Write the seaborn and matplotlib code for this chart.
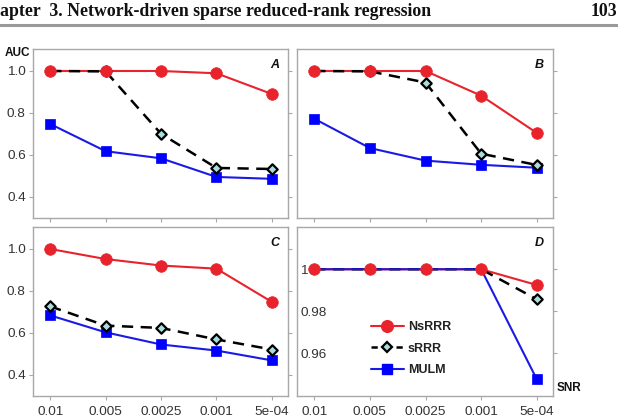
import numpy as np
import pandas as pd
import matplotlib
matplotlib.use("Agg")
import matplotlib.pyplot as plt
import seaborn as sns
from matplotlib.lines import Line2D

# ---------------- data ----------------
snr_labels = ["0.01", "0.005", "0.0025", "0.001", "5e-04"]
methods = ["NsRRR", "sRRR", "MULM"]
panels = ["A", "B", "C", "D"]

nsrrr_A = [1.0, 1.0, 1.0, 0.989, 0.890]
srrr_A = [1.0, 0.998, 0.700, 0.537, 0.532]
mulm_A = [0.747, 0.617, 0.583, 0.494, 0.485]

nsrrr_B = [1.0, 1.0, 1.0, 0.882, 0.704]
srrr_B = [1.0, 0.998, 0.945, 0.605, 0.551]
mulm_B = [0.772, 0.632, 0.572, 0.552, 0.538]

nsrrr_C = [1.0, 0.952, 0.921, 0.906, 0.747]
srrr_C = [0.726, 0.634, 0.623, 0.568, 0.520]
mulm_C = [0.683, 0.602, 0.544, 0.515, 0.468]

nsrrr_D = [1.0, 1.0, 1.0, 1.0, 0.9925]
srrr_D = [1.0, 1.0, 1.0, 1.0, 0.9857]
mulm_D = [1.0, 1.0, 1.0, 1.0, 0.9476]

yticks_ABC = [0.4, 0.6, 0.8, 1.0]
yticklabels_ABC = ["0.4", "0.6", "0.8", "1.0"]
yticks_D = [0.96, 0.98, 1.0]
yticklabels_D = ["0.96", "0.98", "1"]

data = {
    "A": (nsrrr_A, srrr_A, mulm_A),
    "B": (nsrrr_B, srrr_B, mulm_B),
    "C": (nsrrr_C, srrr_C, mulm_C),
    "D": (nsrrr_D, srrr_D, mulm_D),
}

# ---------------- style ----------------
sns.set_theme(style="white")
plt.rcParams["font.family"] = ["Liberation Sans", "DejaVu Sans"]

RED = "#e8232b"
BLUE = "#1a1ae6"
SQ = "#0000ff"
DIAFACE = "#a9dcdc"
SPINE = "#a8a8a8"
TXT = "#333333"

W, H = 618, 419
fig = plt.figure(figsize=(W / 100, H / 100), dpi=100)

def fx(px):
    return px / W

def fy(py):
    return 1 - py / H

boxes = {
    "A": (33, 49, 288, 218),
    "B": (297, 49, 553, 218),
    "C": (33, 227, 288, 396),
    "D": (297, 227, 553, 396),
}

pos = np.arange(len(snr_labels))
axes = {}
for p in panels:
    l, t, r, b = boxes[p]
    ax = fig.add_axes([fx(l), fy(b), fx(r) - fx(l), fy(t) - fy(b)])
    axes[p] = ax
    ns, sr, mu = data[p]
    df = pd.DataFrame({"x": np.tile(pos, 3),
                       "y": np.concatenate([ns, sr, mu]),
                       "method": np.repeat(methods, len(pos))})
    # lines
    sns.lineplot(data=df[df.method == "NsRRR"], x="x", y="y", ax=ax,
                 color=RED, lw=1.5, zorder=2, legend=False)
    sns.lineplot(data=df[df.method == "sRRR"], x="x", y="y", ax=ax,
                 color="black", lw=1.8, zorder=3, legend=False,
                 dashes=False, linestyle=(0, (4.5, 3)))
    sns.lineplot(data=df[df.method == "MULM"], x="x", y="y", ax=ax,
                 color=BLUE, lw=1.5, zorder=4, legend=False)
    # markers (hidden where covered by the NsRRR point)
    ns_arr = np.array(ns)
    keep_sr = ~np.isclose(np.array(sr), ns_arr, atol=1e-3)
    keep_mu = ~np.isclose(np.array(mu), ns_arr, atol=1e-3)
    sns.scatterplot(x=pos[keep_mu], y=np.array(mu)[keep_mu], ax=ax, marker="s",
                    s=48, color=SQ, edgecolor=SQ, linewidth=0.5, zorder=5)
    sns.scatterplot(x=pos[keep_sr], y=np.array(sr)[keep_sr], ax=ax, marker="D",
                    s=28, color=DIAFACE, edgecolor="black", linewidth=1.6, zorder=6)
    sns.scatterplot(x=pos, y=ns_arr, ax=ax, marker="o",
                    s=70, color=RED, edgecolor=RED, linewidth=0.5, zorder=7)

    ax.set_xlim(-0.31, 4.29)
    ax.set_xticks(pos)
    ax.set_xlabel("")
    ax.set_ylabel("")
    for s in ax.spines.values():
        s.set_color(SPINE)
        s.set_linewidth(1.0)
    ax.tick_params(axis="both", colors=SPINE, labelcolor=TXT, labelsize=9.7,
                   direction="out", length=3.2, width=0.8)
    if p in ("C", "D"):
        ax.set_xticklabels(snr_labels)
        ax.tick_params(axis="x", bottom=True, labelbottom=True, pad=4)
    else:
        ax.set_xticklabels([])
        ax.tick_params(axis="x", bottom=True, labelbottom=False)

    if p == "D":
        ax.set_ylim(0.9397, 1.0201)
        ax.set_yticks(yticks_D)
        ax.set_yticklabels(yticklabels_D)
        ax.tick_params(axis="y", left=True, right=True, length=0, pad=-2.4)
        for lab in ax.get_yticklabels():
            lab.set_horizontalalignment("left")
    else:
        ax.set_ylim(0.298, 1.105)
        ax.set_yticks(yticks_ABC)
        if p in ("A", "C"):
            ax.set_yticklabels(yticklabels_ABC)
            ax.tick_params(axis="y", left=True, right=True, labelleft=True, pad=2)
        else:
            ax.set_yticklabels([])
            ax.tick_params(axis="y", left=False, right=True, labelleft=False)
    ax.text(0.965, 0.905, p, transform=ax.transAxes, ha="right", va="center",
            fontsize=9, fontweight="bold", fontstyle="italic", color="#111111")

# right ticks for D drawn outward
axes["D"].tick_params(axis="y", which="major", right=True, labelright=False)
for t in axes["D"].yaxis.get_major_ticks():
    t.tick2line.set_markersize(3.2)
    t.tick2line.set_visible(True)

# legend in panel D
handles = [
    Line2D([], [], color=RED, lw=1.5, marker="o", markersize=8.4,
           markerfacecolor=RED, markeredgecolor=RED),
    Line2D([], [], color="black", lw=1.8, linestyle=(0, (2.5, 2.5)), marker="D",
           markersize=5.4, markerfacecolor=DIAFACE, markeredgecolor="black",
           markeredgewidth=1.6),
    Line2D([], [], color=BLUE, lw=1.5, marker="s", markersize=7.2,
           markerfacecolor=SQ, markeredgecolor=SQ),
]
leg = axes["D"].legend(handles, methods, loc="center left",
                       bbox_to_anchor=(0.265, 0.280), frameon=False,
                       borderpad=0, handlelength=2.6, handletextpad=0.35,
                       labelspacing=0.78,
                       prop={"family": "Liberation Sans", "weight": "bold", "size": 9})
for txt in leg.get_texts():
    txt.set_color("#222222")

# axis annotations
fig.text(fx(5), fy(53), "AUC", fontsize=8.5, fontweight="bold", color="#111111",
         ha="left", va="center")
fig.text(fx(557), fy(388), "SNR", fontsize=8.5, fontweight="bold", color="#111111",
         ha="left", va="center")

# page header
fig.text(fx(0), fy(11), "apter  3. Network-driven sparse reduced-rank regression",
         fontsize=12.8, fontweight="bold", family="Liberation Serif", color="#111111",
         ha="left", va="center")
fig.text(fx(617), fy(11), "103", fontsize=12.8, fontweight="bold",
         family="Liberation Serif", color="#111111", ha="right", va="center")
fig.add_artist(Line2D([0, 1], [fy(25), fy(25)], transform=fig.transFigure,
                      color="#9a9a9a", lw=2.2))

fig.savefig("out.png", dpi=100)
